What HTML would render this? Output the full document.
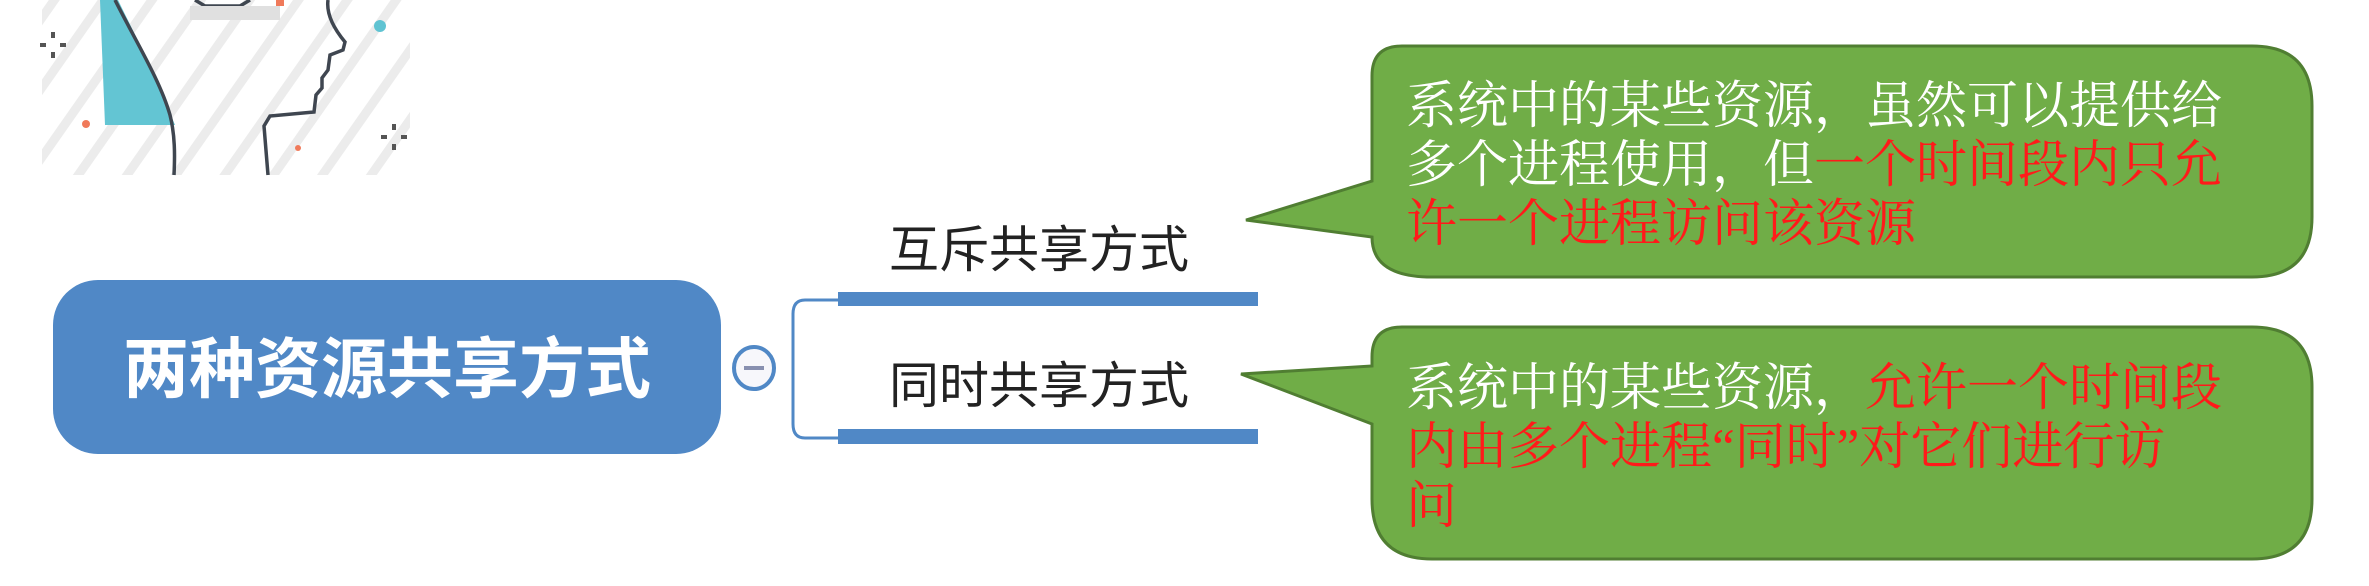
<!DOCTYPE html>
<html><head><meta charset="utf-8"><style>
html,body{margin:0;padding:0;background:#fff;}
body{width:2369px;height:586px;position:relative;overflow:hidden;font-family:"Liberation Sans","Noto Sans CJK SC",sans-serif;}
.abs{position:absolute;}
.ct{position:absolute;left:1406px;width:860px;font-family:"Liberation Serif","Noto Serif CJK SC",serif;font-size:51px;line-height:59px;color:#fff;white-space:nowrap;}
.r{color:#ff1a1a;}
</style></head><body>
<svg class="abs" style="left:0;top:0" width="2369" height="586">
  <defs>
    <pattern id="st" width="40" height="40" patternUnits="userSpaceOnUse" patternTransform="rotate(35)">
      <rect width="40" height="40" fill="#fff"/><rect width="9" height="40" fill="#ececec"/>
    </pattern>
  </defs>
  <rect x="42" y="0" width="368" height="175" fill="url(#st)"/>
  <path d="M100,0 L118,0 L150,65 L175,125 L105,125 Z" fill="#63c5d3"/>
  <path d="M115,0 C135,40 160,80 170,115 C175,135 175,155 174,175" stroke="#3f4650" stroke-width="3.5" fill="none"/>
  <path d="M328,0 C326,15 335,30 345,42 L343,50 L330,55 L328,70 L322,78 L322,88 L316,95 L314,112 L270,116 L264,126 L268,175" stroke="#3f4650" stroke-width="3.5" fill="none"/>
  <path d="M195,0 L205,6 L240,6 L250,0" stroke="#3f4650" stroke-width="3.5" fill="none"/>
  <rect x="190" y="6" width="90" height="14" fill="#e0e0e0"/>
  <circle cx="380" cy="26" r="6" fill="#5fc3d2"/>
  <circle cx="86" cy="124" r="4" fill="#f07a5a"/>
  <circle cx="298" cy="148" r="3" fill="#f07a5a"/>
  <rect x="276" y="0" width="8" height="6" fill="#f07a5a"/>
  <g fill="#555"><rect x="51" y="32" width="4" height="6"/><rect x="51" y="52" width="4" height="6"/><rect x="40" y="43" width="6" height="4"/><rect x="60" y="43" width="6" height="4"/>
  <rect x="392" y="124" width="4" height="6"/><rect x="392" y="144" width="4" height="6"/><rect x="381" y="135" width="6" height="4"/><rect x="401" y="135" width="6" height="4"/></g>

  <rect x="53" y="280" width="668" height="174" rx="45" fill="#5088c6"/>
  <path d="M842,300 L805,300 Q793,300 793,314 L793,424 Q793,438 805,438 L842,438" stroke="#5088c6" stroke-width="3" fill="none"/>
  <rect x="838" y="292" width="420" height="14" fill="#5088c6"/>
  <rect x="838" y="429" width="420" height="15" fill="#5088c6"/>
  <ellipse cx="754" cy="368" rx="20" ry="21" fill="#f7f7fb" stroke="#5088c6" stroke-width="4"/>
  <rect x="744" y="366" width="20" height="4" fill="#8890b0"/>

  <path d="M1402,46 L2252,46 Q2312,46 2312,106 L2312,217 Q2312,277 2252,277 L1432,277 Q1372,277 1372,237 L1246,220 L1372,181 L1372,76 Q1372,46 1402,46 Z" fill="#70ad47" stroke="#507e32" stroke-width="3"/>
  <path d="M1402,327 L2252,327 Q2312,327 2312,387 L2312,499 Q2312,559 2252,559 L1432,559 Q1372,559 1372,499 L1372,424 L1241,374 L1372,366 L1372,357 Q1372,327 1402,327 Z" fill="#70ad47" stroke="#507e32" stroke-width="3"/>
</svg>
<div class="abs" style="left:123px;top:324px;width:530px;font-size:66px;font-weight:bold;color:#fff;line-height:90px;white-space:nowrap;">两种资源共享方式</div>
<div class="abs" style="left:889px;top:218px;font-size:50px;color:#222;line-height:64px;white-space:nowrap;">互斥共享方式</div>
<div class="abs" style="left:889px;top:354px;font-size:50px;color:#222;line-height:64px;white-space:nowrap;">同时共享方式</div>
<div class="ct" style="top:78px;">系统中的某些资源，虽然可以提供给<br>多个进程使用，但<span class="r">一个时间段内只允</span><br><span class="r">许一个进程访问该资源</span></div>
<div class="ct" style="top:360px;">系统中的某些资源，<span class="r">允许一个时间段</span><br><span class="r">内由多个进程“同时”对它们进行访</span><br><span class="r">问</span></div>
</body></html>
